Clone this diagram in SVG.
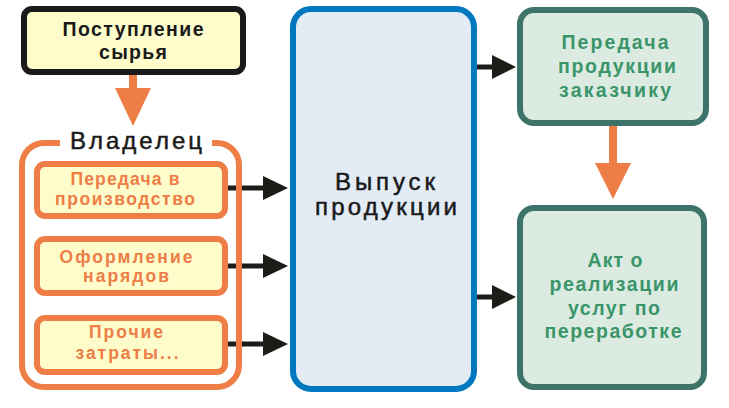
<svg xmlns="http://www.w3.org/2000/svg" width="729" height="408" viewBox="0 0 729 408">
<style>
text{font-family:"Liberation Sans",Arial,sans-serif;text-anchor:middle}
.rg{fill:#1A1A1A;stroke:#1A1A1A;stroke-width:0.5}
.y{fill:#FFFCCB;stroke-width:6}
.or{stroke:#EE7D46}
.ot{fill:#EE7D46;font-weight:bold;font-size:17.5px}
.gt{fill:#3A9569;font-weight:bold;font-size:19.5px}
.tl{fill:#DCEBE2;stroke:#3D7369;stroke-width:6}
.bk{stroke:#1C1C18;stroke-width:5}
.hd{fill:#1C1C18}
.oa{fill:#EE7D46}
</style>
<rect width="729" height="408" fill="#fff"/>
<g id="connectors">
<rect class="oa" x="129" y="74" width="8" height="16"/>
<polygon class="oa" points="115,88 151,88 133,126"/>
<rect class="oa" x="609" y="124" width="8" height="41"/>
<polygon class="oa" points="595,163 631,163 613,199"/>
<line class="bk" x1="226" y1="188" x2="266" y2="188"/>
<polygon class="hd" points="263,176 288,188 263,200"/>
<line class="bk" x1="226" y1="266" x2="266" y2="266"/>
<polygon class="hd" points="263,254 288,266 263,278"/>
<line class="bk" x1="226" y1="344" x2="266" y2="344"/>
<polygon class="hd" points="263,332 288,344 263,356"/>
<line class="bk" x1="474" y1="67" x2="495" y2="67"/>
<polygon class="hd" points="492,55 516,67 492,79"/>
<line class="bk" x1="474" y1="297" x2="495" y2="297"/>
<polygon class="hd" points="492,285 516,297 492,309"/>
</g>
<g id="n-raw">
<rect class="y" x="24" y="9" width="219" height="63" rx="8" stroke="#1A1A1A"/>
<text x="133" y="36" font-size="19.5" font-weight="bold" fill="#1A1A1A" textLength="141" lengthAdjust="spacing">Поступление</text>
<text x="133" y="59" font-size="19.5" font-weight="bold" fill="#1A1A1A" textLength="68" lengthAdjust="spacing">сырья</text>
</g>
<g id="n-owner">
<path d="M60,143 H44 A22,22 0 0 0 22,165 V365 A22,22 0 0 0 44,387 H217 A22,22 0 0 0 239,365 V165 A22,22 0 0 0 217,143 H212" fill="none" stroke="#EE7D46" stroke-width="6"/>
<text class="rg" x="136" y="149" font-size="24" textLength="132" lengthAdjust="spacing">Владелец</text>
</g>
<g id="n-transfer">
<rect class="y or" x="37" y="164" width="188" height="52" rx="8"/>
<text class="ot" x="125" y="185" textLength="109" lengthAdjust="spacing">Передача в</text>
<text class="ot" x="125" y="205" textLength="140" lengthAdjust="spacing">производство</text>
</g>
<g id="n-orders">
<rect class="y or" x="37" y="239" width="188" height="54" rx="8"/>
<text class="ot" x="126" y="263" textLength="133" lengthAdjust="spacing">Оформление</text>
<text class="ot" x="126" y="282" textLength="86" lengthAdjust="spacing">нарядов</text>
</g>
<g id="n-other">
<rect class="y or" x="37" y="318" width="188" height="54" rx="8"/>
<text class="ot" x="126" y="338" textLength="74" lengthAdjust="spacing">Прочие</text>
<text class="ot" x="127" y="359" textLength="103" lengthAdjust="spacing">затраты...</text>
</g>
<g id="n-output">
<rect x="293" y="9" width="181" height="380" rx="18" fill="#E3ECF5" stroke="#0078C0" stroke-width="6"/>
<text class="rg" x="385" y="190" font-size="24" textLength="100" lengthAdjust="spacing">Выпуск</text>
<text class="rg" x="386" y="215" font-size="24" textLength="142" lengthAdjust="spacing">продукции</text>
</g>
<g id="n-customer">
<rect class="tl" x="520" y="10" width="186" height="113" rx="14"/>
<text class="gt" x="615" y="49" textLength="107" lengthAdjust="spacing">Передача</text>
<text class="gt" x="617" y="73" textLength="118" lengthAdjust="spacing">продукции</text>
<text class="gt" x="615" y="97" textLength="112" lengthAdjust="spacing">заказчику</text>
</g>
<g id="n-act">
<rect class="tl" x="520" y="208" width="184" height="179" rx="14"/>
<text class="gt" x="615" y="267" textLength="55" lengthAdjust="spacing">Акт о</text>
<text class="gt" x="614" y="291" textLength="129" lengthAdjust="spacing">реализации</text>
<text class="gt" x="614" y="315" textLength="92" lengthAdjust="spacing">услуг по</text>
<text class="gt" x="613" y="338" textLength="137" lengthAdjust="spacing">переработке</text>
</g>
</svg>
